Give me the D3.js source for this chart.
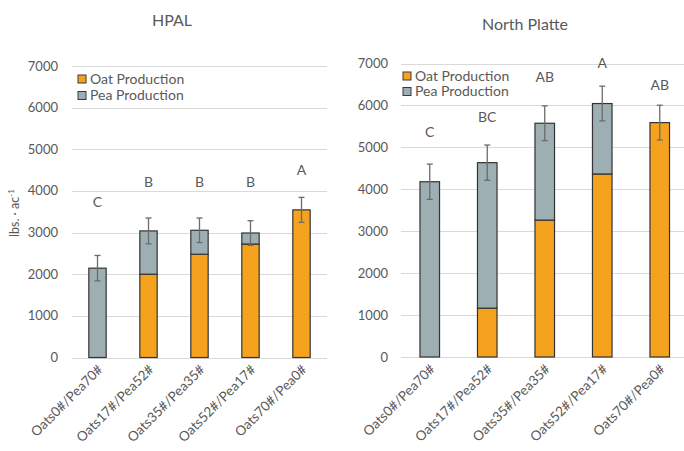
<!DOCTYPE html>
<html><head><meta charset="utf-8">
<script src="https://cdn.jsdelivr.net/npm/d3@7"></script>
<style>
body{margin:0;background:#fff;}
svg text{font-family:Lato,"Open Sans",sans-serif;fill:#595959;}
</style></head>
<body><svg id="c" width="684" height="451"></svg>
<script>
const categories = ["Oats0#/Pea70#","Oats17#/Pea52#","Oats35#/Pea35#","Oats52#/Pea17#","Oats70#/Pea0#"];
const yTicks = [0,1000,2000,3000,4000,5000,6000,7000];
const seriesNames = ["Oat Production","Pea Production"];
const colors = ["#F5A31F","#9EAFB4"];

const hpalTitle = "HPAL";
const hpalOat = [0,2000,2480,2725,3545];
const hpalPea = [2145,1040,575,265,0];
const hpalErr = [305,310,295,295,300];
const hpalLetters = ["C","B","B","B","A"];

const npTitle = "North Platte";
const npOat = [0,1165,3265,4365,5590];
const npPea = [4180,3470,2310,1680,0];
const npErr = [420,420,415,415,415];
const npLetters = ["C","BC","AB","A","AB"];

const svg = d3.select("#c");

function panel(cfg){
  const g = svg.append("g");
  const x = d3.scaleBand().domain(categories).range([cfg.x0,cfg.x1]).paddingInner(0.66).paddingOuter(0.33);
  const y = d3.scaleLinear().domain([0,7000]).range([cfg.y0,cfg.y1]);
  g.selectAll(".grid").data(yTicks).join("line")
    .attr("x1",cfg.x0).attr("x2",cfg.x1)
    .attr("y1",d=>Math.round(y(d))+0.5).attr("y2",d=>Math.round(y(d))+0.5)
    .attr("stroke","#d9d9d9").attr("stroke-width",1);
  g.selectAll(".yt").data(yTicks).join("text")
    .attr("x",cfg.tickX).attr("y",d=>y(d)).attr("dy","0.35em")
    .attr("text-anchor","end").attr("font-size",13).text(d=>d);
  const rows = categories.map((c,i)=>({cat:c,oat:cfg.oat[i],pea:cfg.pea[i],err:cfg.err[i],letter:cfg.letters[i]}));
  const stack = d3.stack().keys(["oat","pea"])(rows);
  stack.forEach((s,si)=>{
    g.selectAll(".b"+si).data(s.filter(d=>d[1]-d[0]>0)).join("rect")
      .attr("x",d=>x(d.data.cat)).attr("width",x.bandwidth())
      .attr("y",d=>y(d[1])).attr("height",d=>y(d[0])-y(d[1]))
      .attr("fill",colors[si]).attr("stroke","#333").attr("stroke-width",1.2);
  });
  const eg = g.selectAll(".eb").data(rows).join("g");
  const cx = d=>x(d.cat)+x.bandwidth()/2;
  eg.append("line").attr("x1",cx).attr("x2",cx)
    .attr("y1",d=>y(d.oat+d.pea+d.err)).attr("y2",d=>y(d.oat+d.pea-d.err))
    .attr("stroke","#6b6b6b").attr("stroke-width",1.3);
  [1,-1].forEach(s=>{
    eg.append("line").attr("x1",d=>cx(d)-3).attr("x2",d=>cx(d)+3)
      .attr("y1",d=>y(d.oat+d.pea+s*d.err)).attr("y2",d=>y(d.oat+d.pea+s*d.err))
      .attr("stroke","#6b6b6b").attr("stroke-width",1.3);
  });
  g.selectAll(".lt").data(rows).join("text")
    .attr("x",cx).attr("y",(d,i)=>cfg.letterY[i]).attr("dy","0.35em")
    .attr("text-anchor","middle").attr("font-size",14).text(d=>d.letter);
  g.selectAll(".xl").data(rows).join("text")
    .attr("transform",d=>`translate(${cx(d)+6},${cfg.y0+13}) rotate(-45)`)
    .attr("text-anchor","end").attr("font-size",13.5).text(d=>d.cat);
  g.append("text").attr("x",cfg.titleX).attr("y",cfg.titleY).attr("text-anchor","middle")
    .attr("font-size",16).text(cfg.title);
  const lg = g.append("g");
  seriesNames.forEach((n,i)=>{
    const yy = cfg.legY + i*cfg.legDy;
    lg.append("rect").attr("x",cfg.legX).attr("y",yy-4).attr("width",8).attr("height",8)
      .attr("fill",colors[i]).attr("stroke","#3a3a3a").attr("stroke-width",1);
    lg.append("text").attr("x",cfg.legX+12).attr("y",yy).attr("dy","0.35em")
      .attr("font-size",14).text(n);
  });
}

panel({x0:72,x1:327,y0:357.5,y1:66,tickX:58,oat:hpalOat,pea:hpalPea,err:hpalErr,letters:hpalLetters,
  letterY:[202.5,182.5,182.5,182.5,170.5],title:hpalTitle,titleX:172,titleY:26,legX:78,legY:79,legDy:16.5});
panel({x0:401,x1:688.5,y0:357,y1:63.5,tickX:388,oat:npOat,pea:npPea,err:npErr,letters:npLetters,
  letterY:[132.5,117.5,77.5,63.5,85.5],title:npTitle,titleX:525,titleY:30,legX:403,legY:76,legDy:15.5});

svg.append("text").attr("transform","translate(19,213) rotate(-90)").attr("text-anchor","middle")
  .attr("font-size",12.5).html('lbs. · ac<tspan dy="-5" font-size="8">-1</tspan>');
</script></body></html>
